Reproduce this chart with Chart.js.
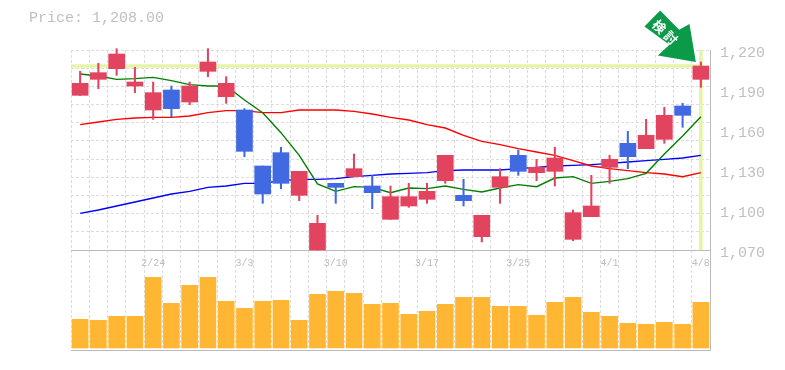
<!DOCTYPE html>
<html>
<head>
<meta charset="utf-8">
<script src="https://cdn.jsdelivr.net/npm/chart.js"></script>
<style>
  body { margin: 0; background: #fff; }
  #price { position: absolute; left: 29px; top: 10px; font: 15px "Liberation Mono", monospace; color: #c0c0c0; }
  #myChart { position: absolute; left: 0; top: 0; }
</style>
</head>
<body>
<canvas id="myChart" width="785" height="370"></canvas>
<div id="price">Price: 1,208.00</div>

<script>
  const dates = ['2/18','2/19','2/20','2/21','2/24','2/25','2/26','2/27','2/28','3/3','3/4','3/5','3/6','3/7','3/10','3/11','3/12','3/13','3/14','3/17','3/18','3/19','3/21','3/24','3/25','3/26','3/27','3/28','3/31','4/1','4/2','4/3','4/4','4/7','4/8'];
  const tickDates = ['2/24','3/3','3/10','3/17','3/25','4/1','4/8'];
  const priceTicks = [1070,1100,1130,1160,1190,1220];

  const opens  = [1186,1198,1206,1193,1175,1190,1181,1204,1185,1175,1133,1143,1111,1070,1120,1125,1118,1093,1103,1108,1122,1111,1080,1117,1141,1128,1129,1078,1095,1132,1150,1146,1153,1178,1198];
  const highs  = [1204,1210,1221,1207,1196,1193,1196,1221,1200,1176,1133,1147,1129,1096,1120,1142,1126,1118,1120,1120,1141,1123,1096,1131,1145,1138,1147,1100,1126,1141,1159,1168,1177,1180,1211];
  const lows   = [1186,1191,1201,1188,1168,1170,1179,1200,1180,1140,1105,1116,1107,1070,1105,1125,1101,1093,1102,1105,1120,1103,1076,1105,1126,1122,1118,1077,1095,1120,1131,1146,1150,1162,1192];
  const closes = [1195,1203,1217,1196,1188,1176,1193,1211,1195,1144,1112,1120,1129,1090,1117,1131,1113,1110,1110,1114,1141,1107,1096,1125,1129,1132,1139,1098,1103,1138,1140,1156,1171,1171,1208];

  const maShort = [1202,1200.5,1198,1198.5,1199.5,1197,1194,1193,1193,1182.5,1173,1158,1141,1119.5,1114,1117.5,1117,1113,1116.5,1116,1118,1115.5,1113.5,1116.5,1119,1117.5,1124,1125,1120,1121.5,1123.5,1127.5,1142,1155.5,1170];
  const maMid   = [1164,1166,1168,1169,1169.5,1169.5,1170.5,1173,1174.5,1174.5,1173,1173,1175,1175,1175,1174,1172,1169.5,1167.5,1164,1161.5,1156,1151.5,1149,1146,1143.5,1141,1137,1133,1131,1129.5,1128,1127,1125,1128];
  const maLong  = [1097.5,1100,1103,1106,1109,1112,1114,1117,1118,1120,1120,1122,1123,1123,1123.5,1125,1126,1127,1127.5,1128,1129.5,1130,1130,1130,1131,1132,1133,1133.5,1134,1135,1136,1137,1138,1139,1141];

  const volumes = [2870,2770,3170,3170,7070,4470,6270,7070,4670,3970,4670,4770,2770,5370,5670,5470,4370,4470,3370,3670,4370,5070,5070,4170,4170,3270,4570,5070,3570,3170,2470,2370,2570,2370,4570];

  const RED = '#e2435f';
  const BLUE = '#4169e1';
  const GRID = '#dcdcdc';
  const AXIS = '#bbbbbb';
  const BAND = '#e5f4a8';
  const candleColors = opens.map((o, i) => closes[i] >= o ? RED : BLUE);
  const lastClose = closes[closes.length - 1];

  // green arrow pointing at the last candle
  const arrowPlugin = {
    id: 'arrow',
    afterDatasetsDraw(chart) {
      const last = closes.length - 1;
      const tipX = chart.scales.x.getPixelForValue(last) - 5;
      const tipY = chart.scales.yPrice.getPixelForValue(highs[last]);
      const c = chart.ctx;
      c.save();
      c.translate(tipX, tipY);
      c.fillStyle = '#0a9a48';
      c.beginPath();
      c.moveTo(0, 0);
      c.lineTo(-38, -6.6);
      c.lineTo(-26.4, -17.3);
      c.lineTo(-51.4, -35.6);
      c.lineTo(-35.7, -51.6);
      c.lineTo(-16.7, -32.3);
      c.lineTo(-6.4, -38);
      c.closePath();
      c.fill();
      c.translate(-29.7, -28.8);
      c.rotate(Math.PI / 4);
      c.fillStyle = '#fff';
      c.font = 'bold 13px "Noto Sans CJK JP"';
      c.letterSpacing = '3px';
      c.textAlign = 'center';
      c.textBaseline = 'middle';
      c.fillText('検討', 0, 0);
      c.restore();
    }
  };

  const lineSet = (data, color) => ({
    type: 'line', data: data, yAxisID: 'yPrice', borderColor: color, borderWidth: 1.4,
    pointRadius: 0, tension: 0, order: 3
  });
  const barSet = (data, color, thickness, axis, order) => ({
    type: 'bar', data: data, yAxisID: axis, backgroundColor: color, barThickness: thickness,
    grouped: false, borderWidth: 0, borderSkipped: false, order: order, clip: false
  });

  new Chart(document.getElementById('myChart'), {
    data: {
      labels: dates,
      datasets: [
        barSet(opens.map((o, i) => [o, closes[i]]), candleColors, 16, 'yPrice', 1),
        barSet(lows.map((l, i) => [l, highs[i]]), candleColors, 1.4, 'yPrice', 2),
        lineSet(maShort, '#008000'),
        lineSet(maMid, '#ff0000'),
        lineSet(maLong, '#0000ff'),
        { type: 'line', xAxisID: 'xBand', yAxisID: 'yPrice', borderColor: BAND, borderWidth: 3.6, pointRadius: 0, order: 4,
          data: [{x: 0, y: lastClose}, {x: 34.5, y: lastClose}] },
        { type: 'line', xAxisID: 'xBand', yAxisID: 'yPrice', borderColor: BAND, borderWidth: 3.6, pointRadius: 0, order: 4,
          data: [{x: 34.5, y: 1220}, {x: 34.5, y: 1070}] },
        barSet(volumes, '#ffb733', 16, 'yVol', 5)
      ]
    },
    options: {
      responsive: false,
      animation: false,
      layout: { padding: { left: 71, top: 50, bottom: 20, right: 0 } },
      plugins: { legend: { display: false }, tooltip: { enabled: false } },
      scales: {
        x: {
          position: { yPrice: 1070 },
          offset: true,
          border: { display: false, dash: [3, 2] },
          grid: { color: GRID, drawTicks: false },
          ticks: {
            autoSkip: false, maxRotation: 0, padding: 7, color: '#bdbdbd',
            labelOffset: (ctx) => ctx.tick && ctx.tick.label && ctx.tick.label.length === 3 ? -2 : 0,
            font: { family: '"Liberation Mono", monospace', size: 10 },
            callback: function (value) {
              let label = this.getLabelForValue(value);
              return tickDates.includes(label) ? label : '';
            }
          }
        },
        xBand: { type: 'linear', display: false, min: 0, max: 35 },
        yPrice: {
          position: 'right',
          min: 995, max: 1220,
          border: { display: true, color: AXIS },
          grid: { display: false, drawTicks: false },
          afterBuildTicks: (axis) => { axis.ticks = priceTicks.map(v => ({ value: v })); },
          afterFit: (axis) => { axis.width = 75; },
          ticks: {
            autoSkip: false, padding: 10, labelOffset: 3, color: '#c0c0c0',
            font: { family: '"Liberation Mono", monospace', size: 15 },
            callback: (value) => value.toLocaleString('en-US')
          }
        },
        yGrid: {
          position: 'left',
          min: 995, max: 1220,
          afterBuildTicks: (axis) => {
            let ticks = [{ value: 995 }];
            for (let i = 0; i <= 11; i++) ticks.push({ value: 1070 + i * 150 / 11 });
            axis.ticks = ticks;
          },
          afterFit: (axis) => { axis.width = 0; },
          ticks: { display: false },
          border: {
            display: false,
            dash: (ctx) => ctx.tick && ctx.tick.value <= 1070 ? [] : [3, 2]
          },
          grid: {
            drawTicks: false,
            color: (ctx) => ctx.tick && ctx.tick.value <= 1070 ? AXIS : GRID
          }
        },
        yVol: { position: 'right', display: false, min: -200, max: 29800 }
      }
    },
    plugins: [arrowPlugin]
  });
</script>
</body>
</html>
